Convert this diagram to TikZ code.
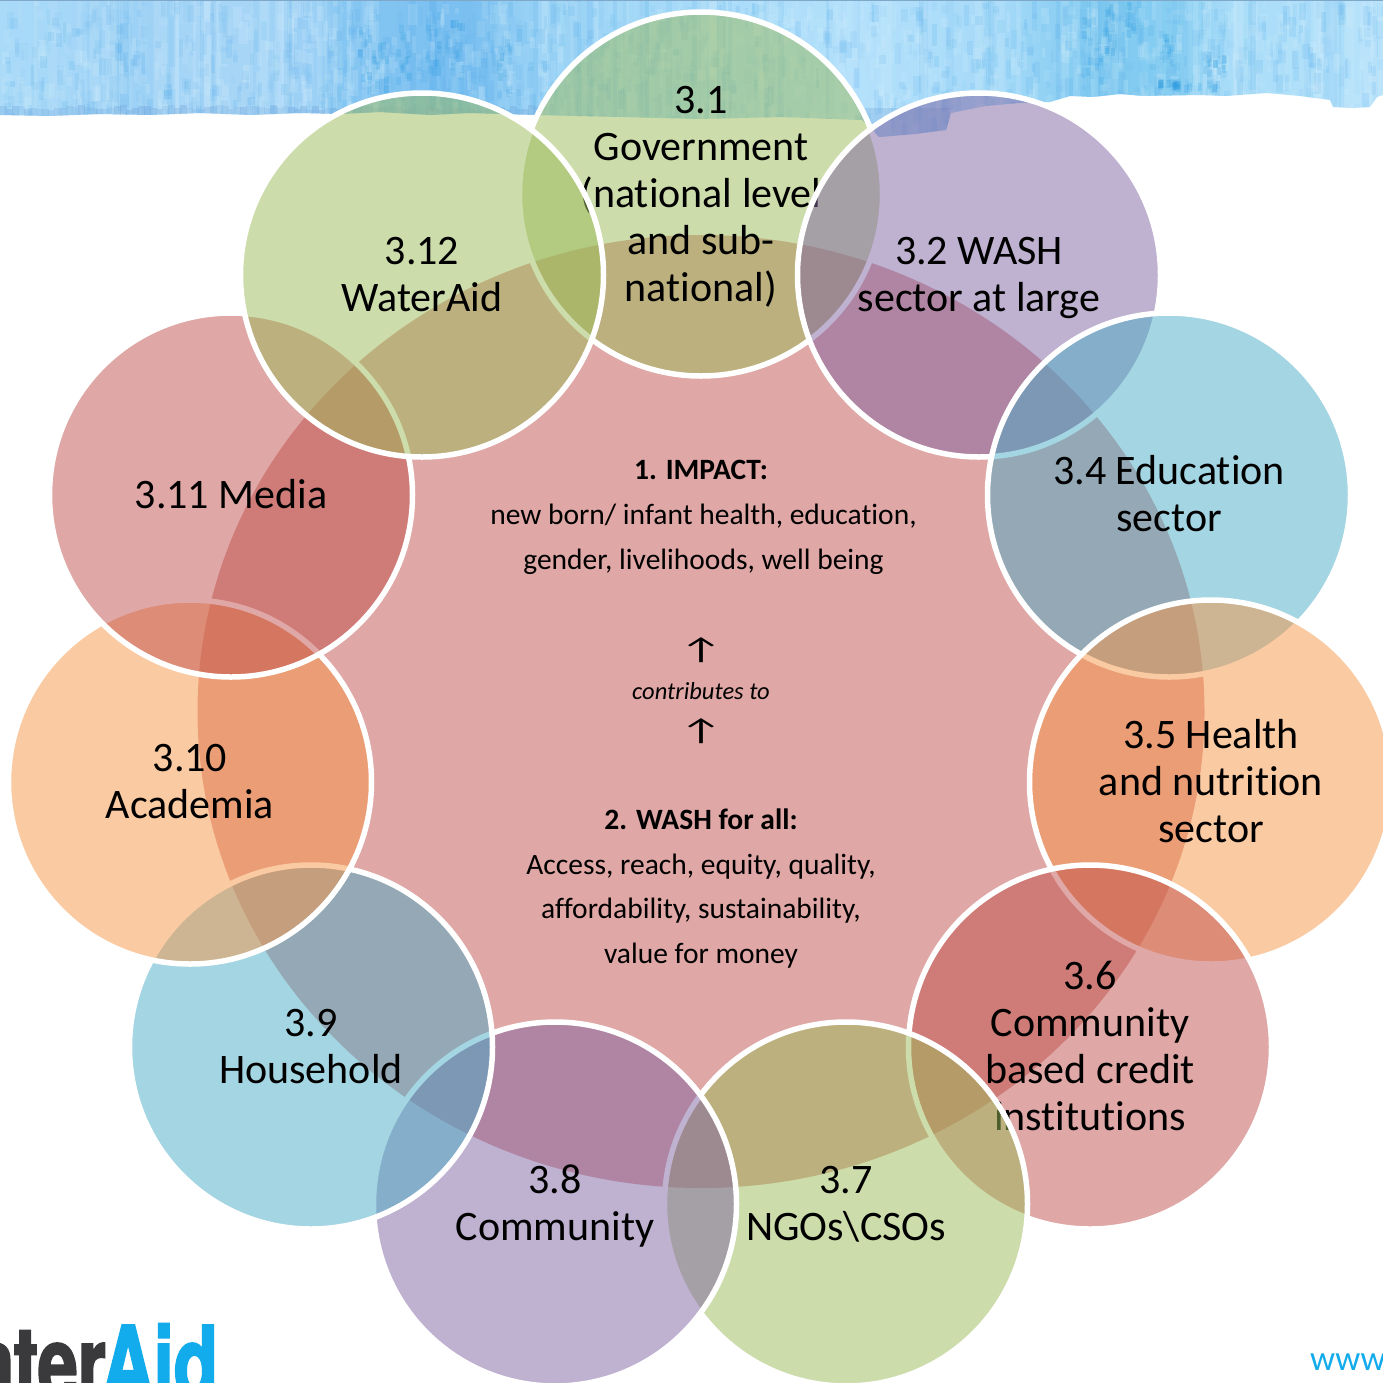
\documentclass[tikz,border=0pt]{standalone}
\usepackage{fontspec}
\setmainfont[Ligatures=NoCommon]{Carlito}
\newfontfamily\logofont[FakeStretch=0.72,BoldFeatures={FakeBold=2}]{TeX Gyre Heros}
\newfontfamily\arrowfont[FakeStretch=1.6]{Carlito}
\usetikzlibrary{shapes.geometric}
\definecolor{cred}{HTML}{C0504D}
\definecolor{cgreen}{HTML}{9BBB59}
\definecolor{cpurple}{HTML}{8064A2}
\definecolor{cteal}{HTML}{4BACC6}
\definecolor{corange}{HTML}{F79646}
\definecolor{wablue}{HTML}{12ABEC}
\definecolor{wadark}{HTML}{3A3A3C}
\definecolor{washdark}{HTML}{4CA8EA}
\definecolor{washdeep}{HTML}{2096DE}
\definecolor{washlight}{HTML}{D8F1FD}
\definecolor{washrim}{HTML}{6FA4DC}
\definecolor{washtop}{HTML}{7FA8C8}
\newcommand{\rs}{\rule[-10.4pt]{0pt}{47pt}}
\tikzset{
  ring/.style={ellipse,inner sep=0pt,minimum width=363pt,minimum height=364pt,
    draw=white,line width=5.5pt,fill=#1,fill opacity=.5,draw opacity=1,text opacity=1,
    align=center,font=\fontsize{42}{47}\selectfont,text=black},
  hub/.style={ellipse,inner sep=0pt,minimum width=1007pt,minimum height=953pt,
    fill=cred,fill opacity=.5},
  body/.style={align=center,font=\fontsize{29.5}{44.7}\selectfont,text=black,inner sep=0pt},
  head/.style={font=\fontsize{29.5}{44.7}\bfseries,text=black,inner sep=0pt},
  note/.style={font=\fontsize{24.5}{28}\selectfont\itshape,text=black,inner sep=0pt},
  upmark/.style={font=\arrowfont\fontsize{30}{30}\selectfont,text=black,inner sep=0pt},
  logotext/.style={anchor=base east,inner sep=0pt,font=\logofont\fontsize{100}{100}\bfseries},
}
\begin{document}
\begin{tikzpicture}[x=1pt,y=-1pt]
\useasboundingbox (0,0) rectangle (1383,1382);
\fill[white] (0,0) rectangle (1383,1382);
% watercolour band
\begin{scope}
\clip (0,0) -- (1383,0) -- (1383,95) -- (1377,97) -- (1370,107) -- (1352,108) -- (1333,107) -- (1330,100)
  -- (1300,96) -- (1267,93) -- (1225,96) -- (1200,95) -- (1143,96) -- (1120,94) -- (1093,97) -- (1070,96) -- (1050,102)
  -- (1018,103) -- (985,106) -- (951,113) -- (946,130) -- (915,134) -- (879,137) -- (862,120)
  -- (780,117) -- (700,119) -- (620,117) -- (536,115) -- (500,114) -- (470,113) -- (430,115) -- (380,112) -- (340,114)
  -- (300,113) -- (250,115) -- (200,113) -- (150,115) -- (100,114) -- (50,116) -- (0,115) -- cycle;
\foreach \a/\b/\ca/\cb in {0/120/A9DAF8/A2D4F6,120/200/A2D4F6/A6D5F6,200/300/A6D5F6/A8D6F7,
    300/340/A8D6F7/86C6F2,340/470/86C6F2/79BFF0,470/540/79BFF0/9FD5F6,540/700/9FD5F6/A8DBF8,
    700/860/A8DBF8/B3E0FB,860/1000/B3E0FB/A6DAF8,1000/1090/A6DAF8/7FC9F0,1090/1170/7FC9F0/86CDF1,
    1170/1230/86CDF1/A8DCF8,1230/1383/A8DCF8/B8E3FB}{
  \definecolor{ca}{HTML}{\ca}\definecolor{cb}{HTML}{\cb}
  \shade[left color=ca,right color=cb] (\a,0) rectangle (\b+1,140);
}
\pgfmathsetseed{42}
\foreach \i in {1,...,70}{
  \pgfmathsetmacro{\xx}{rnd*1383}\pgfmathsetmacro{\ww}{3+rnd*8}\pgfmathsetmacro{\op}{.08+rnd*.14}
  \fill[washlight,opacity=\op] (\xx,0) rectangle ++(\ww,140);
  \pgfmathsetmacro{\xx}{rnd*1383}\pgfmathsetmacro{\ww}{3+rnd*6}\pgfmathsetmacro{\op}{.05+rnd*.1}
  \fill[washdark,opacity=\op] (\xx,0) rectangle ++(\ww,140);
}
\foreach \i in {1,...,900}{
  \pgfmathsetmacro{\xx}{rnd*1383}\pgfmathsetmacro{\yy}{rnd*125}
  \pgfmathsetmacro{\ww}{3+rnd*6}\pgfmathsetmacro{\hh}{6+rnd*16}\pgfmathsetmacro{\op}{.05+rnd*.16}
  \fill[washlight,opacity=\op] (\xx,\yy) rectangle ++(\ww,\hh);
  \pgfmathsetmacro{\xx}{rnd*1383}\pgfmathsetmacro{\yy}{rnd*125}
  \pgfmathsetmacro{\ww}{3+rnd*5}\pgfmathsetmacro{\hh}{6+rnd*16}\pgfmathsetmacro{\op}{.04+rnd*.13}
  \fill[washdark,opacity=\op] (\xx,\yy) rectangle ++(\ww,\hh);
}
% darker streaks, as clusters of soft patches
\foreach \x/\y/\rx/\ry in {1093/55/9/36,1133/18/6/18,1110/30/5/24,1167/52/6/18,1196/86/24/3,
    1215/65/12/10,403/55/6/26,433/45/7/30,457/50/6/28,380/70/8/25,365/60/5/30,505/70/6/30,
    1170/85/10/3}{
  \foreach \j in {1,...,16}{
    \pgfmathsetmacro{\xx}{\x+rand*\rx}\pgfmathsetmacro{\yy}{\y+rand*\ry}
    \pgfmathsetmacro{\op}{.07+rnd*.15}
    \fill[washdeep,opacity=\op] (\xx-2,\yy-4) rectangle ++(4.5,8);
  }
}
\foreach \x in {0,6,...,540}{
  \pgfmathsetmacro{\yy}{105+rnd*5}\pgfmathsetmacro{\op}{.15+rnd*.2}
  \fill[washrim,opacity=\op] (\x,\yy) rectangle ++(6.5,14);
}
\fill[washrim,opacity=.3] (860,108) rectangle (950,140);
\fill[washtop] (0,0) rectangle (1383,1.2);
\end{scope}
% logo and web address
\begin{scope}
\clip (0,1320) rectangle (1383,1382);
\node[logotext,text=wadark] (logodark) at (106,1398) {Water};
\node[logotext,text=wablue] (logoblue) at (218,1398) {Aid};
\node[anchor=base west,inner sep=0pt,text=wablue,font=\fontsize{35}{35}\selectfont] (web) at (1310,1370.5) {www};
\end{scope}
% hub
\node[hub] (hub) at (701,711.5) {};
% rings, in stacking order
\node[ring=cgreen]  (r1)  at (701,194)  {\rs 3.1\\Government\\(national level\\and sub-\\national)\rs};
\node[ring=cpurple] (r2)  at (979,275)  {\rs 3.2 WASH\\sector at large\rs};
\node[ring=cteal]   (r4)  at (1169,495) {\rs 3.4 Education\\sector\rs};
\node[ring=corange] (r5)  at (1211,782) {\rs 3.5 Health\\and nutrition\\sector\rs};
\node[ring=cred]    (r6)  at (1090,1047){\rs 3.6\\Community\\based credit\\institutions\rs};
\node[ring=cgreen]  (r7)  at (846,1204) {\rs 3.7\\NGOs\textbackslash CSOs\rs};
\node[ring=cpurple] (r8)  at (555,1204) {\rs 3.8\\Community\rs};
\node[ring=cteal]   (r9)  at (311,1047) {\rs 3.9\\Household\rs};
\node[ring=corange] (r10) at (190,782)  {\rs 3.10\\Academia\rs};
\node[ring=cred]    (r11) at (231,495)  {\rs 3.11 Media\rs};
\node[ring=cgreen]  (r12) at (422,275)  {\rs 3.12\\WaterAid\rs};
% centre text
\node[head] (t1) at (701,470) {1. IMPACT:};
\node[body] (t2) at (703.5,539) {new born/ infant health, education,\\gender, livelihoods, well being};
\node[upmark] (u1) at (701,650) {↑};
\node[note] (t3) at (701,691) {contributes to};
\node[upmark] (u2) at (701,731) {↑};
\node[head] (t4) at (701,819) {2. WASH for all:};
\node[body] (t5) at (701,911) {Access, reach, equity, quality,\\affordability, sustainability,\\value for money};
\end{tikzpicture}
\end{document}
